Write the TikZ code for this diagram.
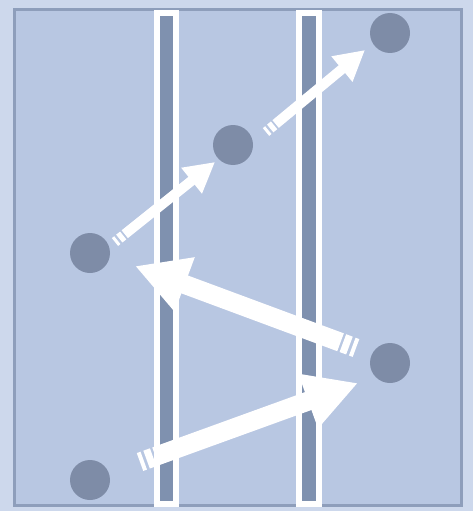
\documentclass[tikz,border=0pt]{standalone}
\usetikzlibrary{arrows.meta}
\definecolor{outerbg}{HTML}{CDD8EC}
\definecolor{innerbg}{HTML}{B8C7E2}
\definecolor{frameline}{HTML}{8E9EBB}
\definecolor{barfill}{HTML}{7F91AF}
\definecolor{dotfill}{HTML}{7E8CA7}
\tikzset{
  dot/.style={circle, fill=dotfill, minimum size=40pt, inner sep=0pt, draw=none},
  bar/.style={draw=white, line width=6pt, fill=barfill},
  thinarrow/.style={white, line width=10pt,
    dash pattern=on 3pt off 2.5pt on 5pt off 2pt on 2000pt,
    -{Triangle[length=30pt,width=31pt]}},
  thickarrow/.style={white, line width=19pt,
    dash pattern=on 4pt off 3pt on 7pt off 2.5pt on 2000pt,
    -{Triangle[length=53pt,width=54pt]}}
}
\begin{document}
\begin{tikzpicture}[x=1pt,y=-1pt]
  \useasboundingbox (0,0) rectangle (473,511);
  \fill[outerbg] (0,0) rectangle (473,511);
  % frame
  \draw[frameline, fill=innerbg, line width=3pt] (14,10) rectangle (461,505);
  % column separators
  \draw[bar] (157,13) rectangle (176,504);
  \draw[bar] (298.5,13) rectangle (318.5,504);
  % dots
  \node[dot] (d1) at (390,33) {};
  \node[dot] (d2) at (233,145) {};
  \node[dot] (d3) at (90,253) {};
  \node[dot] (d4) at (390,363) {};
  \node[dot] (d5) at (90,480) {};
  % arrow end points
  \coordinate (a1t) at (115,242);
  \coordinate (a1h) at (215,162);
  \coordinate (a2t) at (266,132);
  \coordinate (a2h) at (365,50);
  \coordinate (a3t) at (356,348);
  \coordinate (a3h) at (135,266);
  \coordinate (a4t) at (140,462);
  \coordinate (a4h) at (358,383);
  % arrows
  \draw[thinarrow] (a1t) -- (a1h);
  \draw[thinarrow] (a2t) -- (a2h);
  \draw[thickarrow] (a3t) -- (a3h);
  \draw[thickarrow] (a4t) -- (a4h);
\end{tikzpicture}
\end{document}
